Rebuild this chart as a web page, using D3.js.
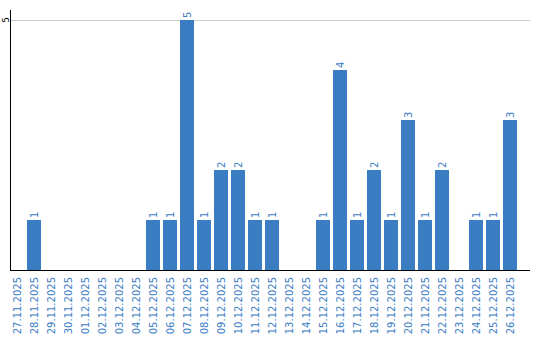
<!DOCTYPE html>
<html>
<head>
<meta charset="utf-8">
<script src="https://cdn.jsdelivr.net/npm/d3@7"></script>
<style>
body { margin: 0; background: #fff; }
text { font-family: "DejaVu Sans", Verdana, sans-serif; }
</style>
</head>
<body>
<svg width="540" height="340"></svg>
<script>
let dates = ["27.11.2025","28.11.2025","29.11.2025","30.11.2025","01.12.2025","02.12.2025",
  "03.12.2025","04.12.2025","05.12.2025","06.12.2025","07.12.2025","08.12.2025","09.12.2025",
  "10.12.2025","11.12.2025","12.12.2025","13.12.2025","14.12.2025","15.12.2025","16.12.2025",
  "17.12.2025","18.12.2025","19.12.2025","20.12.2025","21.12.2025","22.12.2025","23.12.2025",
  "24.12.2025","25.12.2025","26.12.2025"];
let counts = [0,1,0,0,0,0,0,0,1,1,5,1,2,2,1,1,0,0,1,4,1,2,1,3,1,2,0,1,1,3];
let yTicks = [5];

let blue = "#3b7dc3";
let svg = d3.select('svg');

let x = d3.scaleBand().domain(dates).range([10, 517]).paddingInner(3/17).paddingOuter(0);
let y = d3.scaleLinear().domain([0, 5]).range([270, 20]);

// gridlines
svg.selectAll('.grid').data(yTicks).enter().append('line')
    .attr('x1', 10).attr('x2', 530)
    .attr('y1', d => y(d) + 0.5).attr('y2', d => y(d) + 0.5)
    .attr('stroke', '#cccccc');

svg.selectAll('.ytick').data(yTicks).enter().append('text')
    .attr('transform', d => 'translate(8.5,' + y(d) + ') rotate(-90)')
    .attr('text-anchor', 'middle')
    .attr('font-size', 9)
    .attr('fill', '#000')
    .text(d => d);

// bars
svg.selectAll('rect').data(counts).enter().append('rect')
    .attr('x', (d, i) => x(dates[i]))
    .attr('y', d => y(d))
    .attr('width', x.bandwidth())
    .attr('height', d => y(0) - y(d))
    .attr('fill', blue);

// value labels above bars
counts.forEach((d, i) => {
    if (d <= 0) return;
    svg.append('text')
        .attr('transform', 'translate(' + (x(dates[i]) + x.bandwidth()/2 + 4) + ',' + (y(d) - 2) + ') rotate(-90)')
        .attr('text-anchor', 'start')
        .attr('font-size', 10)
        .attr('fill', blue)
        .text(d);
});

// x labels
svg.selectAll('.xl').data(dates).enter().append('text')
    .attr('transform', d => 'translate(' + (x(d) + x.bandwidth()/2 + 4) + ',277) rotate(-90)')
    .attr('text-anchor', 'end')
    .attr('font-size', 10)
    .attr('fill', blue)
    .text(d => d);

// axis lines
svg.append('line').attr('x1', 10.5).attr('x2', 10.5).attr('y1', 10).attr('y2', 270.5)
    .attr('stroke', '#000');
svg.append('line').attr('x1', 10).attr('x2', 530).attr('y1', 270.5).attr('y2', 270.5)
    .attr('stroke', '#000');
</script>
</body>
</html>
